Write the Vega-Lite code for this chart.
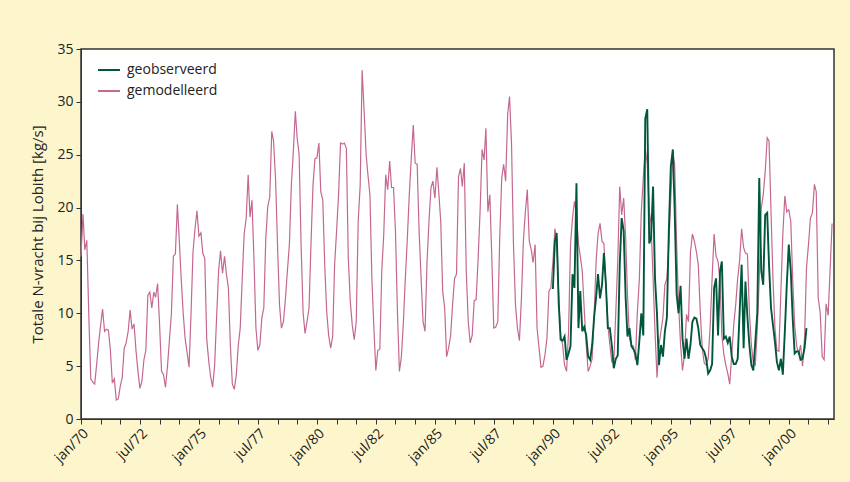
{
"$schema":"https://vega.github.io/schema/vega-lite/v6.json",
"width":753,"height":370,
"autosize":{"type":"none"},
"padding":{"left":81,"top":49,"right":16,"bottom":63},
"background":"#fdf6cc",
"config":{"font":"Open Sans","view":{"fill":"white","stroke":"#333333","strokeWidth":1.5}},
"data":{"values":[
{"t":"1970-01-01","gemodelleerd":15.4},{"t":"1970-02-01","gemodelleerd":19.4},{"t":"1970-03-01","gemodelleerd":16.0},{"t":"1970-04-01","gemodelleerd":16.9},{"t":"1970-05-01","gemodelleerd":10.0},{"t":"1970-06-01","gemodelleerd":3.8},{"t":"1970-07-01","gemodelleerd":3.5},{"t":"1970-08-01","gemodelleerd":3.3},{"t":"1970-09-01","gemodelleerd":5.2},{"t":"1970-10-01","gemodelleerd":7.2},{"t":"1970-11-01","gemodelleerd":8.9},{"t":"1970-12-01","gemodelleerd":10.4},
{"t":"1971-01-01","gemodelleerd":8.3},{"t":"1971-02-01","gemodelleerd":8.5},{"t":"1971-03-01","gemodelleerd":8.4},{"t":"1971-04-01","gemodelleerd":6.5},{"t":"1971-05-01","gemodelleerd":3.4},{"t":"1971-06-01","gemodelleerd":3.8},{"t":"1971-07-01","gemodelleerd":1.8},{"t":"1971-08-01","gemodelleerd":1.9},{"t":"1971-09-01","gemodelleerd":3.1},{"t":"1971-10-01","gemodelleerd":3.9},{"t":"1971-11-01","gemodelleerd":6.7},{"t":"1971-12-01","gemodelleerd":7.2},
{"t":"1972-01-01","gemodelleerd":8.3},{"t":"1972-02-01","gemodelleerd":10.3},{"t":"1972-03-01","gemodelleerd":8.5},{"t":"1972-04-01","gemodelleerd":9.0},{"t":"1972-05-01","gemodelleerd":6.5},{"t":"1972-06-01","gemodelleerd":4.5},{"t":"1972-07-01","gemodelleerd":2.9},{"t":"1972-08-01","gemodelleerd":3.6},{"t":"1972-09-01","gemodelleerd":5.6},{"t":"1972-10-01","gemodelleerd":6.5},{"t":"1972-11-01","gemodelleerd":11.7},{"t":"1972-12-01","gemodelleerd":12.0},
{"t":"1973-01-01","gemodelleerd":10.5},{"t":"1973-02-01","gemodelleerd":12.0},{"t":"1973-03-01","gemodelleerd":11.5},{"t":"1973-04-01","gemodelleerd":12.8},{"t":"1973-05-01","gemodelleerd":9.0},{"t":"1973-06-01","gemodelleerd":4.5},{"t":"1973-07-01","gemodelleerd":4.2},{"t":"1973-08-01","gemodelleerd":3.0},{"t":"1973-09-01","gemodelleerd":5.0},{"t":"1973-10-01","gemodelleerd":7.5},{"t":"1973-11-01","gemodelleerd":10.0},{"t":"1973-12-01","gemodelleerd":15.4},
{"t":"1974-01-01","gemodelleerd":15.6},{"t":"1974-02-01","gemodelleerd":20.3},{"t":"1974-03-01","gemodelleerd":17.1},{"t":"1974-04-01","gemodelleerd":13.3},{"t":"1974-05-01","gemodelleerd":10.1},{"t":"1974-06-01","gemodelleerd":7.6},{"t":"1974-07-01","gemodelleerd":6.3},{"t":"1974-08-01","gemodelleerd":4.9},{"t":"1974-09-01","gemodelleerd":10.1},{"t":"1974-10-01","gemodelleerd":15.8},{"t":"1974-11-01","gemodelleerd":18.0},{"t":"1974-12-01","gemodelleerd":19.7},
{"t":"1975-01-01","gemodelleerd":17.3},{"t":"1975-02-01","gemodelleerd":17.6},{"t":"1975-03-01","gemodelleerd":15.7},{"t":"1975-04-01","gemodelleerd":15.2},{"t":"1975-05-01","gemodelleerd":7.6},{"t":"1975-06-01","gemodelleerd":5.5},{"t":"1975-07-01","gemodelleerd":4.0},{"t":"1975-08-01","gemodelleerd":3.0},{"t":"1975-09-01","gemodelleerd":5.1},{"t":"1975-10-01","gemodelleerd":9.6},{"t":"1975-11-01","gemodelleerd":14.0},{"t":"1975-12-01","gemodelleerd":15.9},
{"t":"1976-01-01","gemodelleerd":13.8},{"t":"1976-02-01","gemodelleerd":15.4},{"t":"1976-03-01","gemodelleerd":13.7},{"t":"1976-04-01","gemodelleerd":12.4},{"t":"1976-05-01","gemodelleerd":7.0},{"t":"1976-06-01","gemodelleerd":3.3},{"t":"1976-07-01","gemodelleerd":2.8},{"t":"1976-08-01","gemodelleerd":4.2},{"t":"1976-09-01","gemodelleerd":7.0},{"t":"1976-10-01","gemodelleerd":8.6},{"t":"1976-11-01","gemodelleerd":13.3},{"t":"1976-12-01","gemodelleerd":17.5},
{"t":"1977-01-01","gemodelleerd":19.0},{"t":"1977-02-01","gemodelleerd":23.1},{"t":"1977-03-01","gemodelleerd":19.1},{"t":"1977-04-01","gemodelleerd":20.7},{"t":"1977-05-01","gemodelleerd":15.2},{"t":"1977-06-01","gemodelleerd":8.6},{"t":"1977-07-01","gemodelleerd":6.5},{"t":"1977-08-01","gemodelleerd":7.0},{"t":"1977-09-01","gemodelleerd":9.6},{"t":"1977-10-01","gemodelleerd":10.5},{"t":"1977-11-01","gemodelleerd":17.1},{"t":"1977-12-01","gemodelleerd":20.1},
{"t":"1978-01-01","gemodelleerd":21.0},{"t":"1978-02-01","gemodelleerd":27.2},{"t":"1978-03-01","gemodelleerd":26.3},{"t":"1978-04-01","gemodelleerd":22.7},{"t":"1978-05-01","gemodelleerd":16.5},{"t":"1978-06-01","gemodelleerd":10.8},{"t":"1978-07-01","gemodelleerd":8.6},{"t":"1978-08-01","gemodelleerd":9.2},{"t":"1978-09-01","gemodelleerd":11.4},{"t":"1978-10-01","gemodelleerd":14.0},{"t":"1978-11-01","gemodelleerd":16.5},{"t":"1978-12-01","gemodelleerd":22.1},
{"t":"1979-01-01","gemodelleerd":25.3},{"t":"1979-02-01","gemodelleerd":29.1},{"t":"1979-03-01","gemodelleerd":26.6},{"t":"1979-04-01","gemodelleerd":25.0},{"t":"1979-05-01","gemodelleerd":16.5},{"t":"1979-06-01","gemodelleerd":10.1},{"t":"1979-07-01","gemodelleerd":8.1},{"t":"1979-08-01","gemodelleerd":9.2},{"t":"1979-09-01","gemodelleerd":10.5},{"t":"1979-10-01","gemodelleerd":16.5},{"t":"1979-11-01","gemodelleerd":22.1},{"t":"1979-12-01","gemodelleerd":24.6},
{"t":"1980-01-01","gemodelleerd":24.7},{"t":"1980-02-01","gemodelleerd":26.1},{"t":"1980-03-01","gemodelleerd":21.5},{"t":"1980-04-01","gemodelleerd":20.7},{"t":"1980-05-01","gemodelleerd":14.6},{"t":"1980-06-01","gemodelleerd":10.1},{"t":"1980-07-01","gemodelleerd":7.9},{"t":"1980-08-01","gemodelleerd":6.7},{"t":"1980-09-01","gemodelleerd":7.8},{"t":"1980-10-01","gemodelleerd":14.6},{"t":"1980-11-01","gemodelleerd":17.8},{"t":"1980-12-01","gemodelleerd":21.2},
{"t":"1981-01-01","gemodelleerd":26.1},{"t":"1981-02-01","gemodelleerd":26.0},{"t":"1981-03-01","gemodelleerd":26.1},{"t":"1981-04-01","gemodelleerd":25.6},{"t":"1981-05-01","gemodelleerd":15.2},{"t":"1981-06-01","gemodelleerd":11.1},{"t":"1981-07-01","gemodelleerd":8.9},{"t":"1981-08-01","gemodelleerd":7.5},{"t":"1981-09-01","gemodelleerd":9.2},{"t":"1981-10-01","gemodelleerd":18.7},{"t":"1981-11-01","gemodelleerd":22.1},{"t":"1981-12-01","gemodelleerd":33.0},
{"t":"1982-01-01","gemodelleerd":29.1},{"t":"1982-02-01","gemodelleerd":25.0},{"t":"1982-03-01","gemodelleerd":23.1},{"t":"1982-04-01","gemodelleerd":21.2},{"t":"1982-05-01","gemodelleerd":13.3},{"t":"1982-06-01","gemodelleerd":8.6},{"t":"1982-07-01","gemodelleerd":4.6},{"t":"1982-08-01","gemodelleerd":6.5},{"t":"1982-09-01","gemodelleerd":6.6},{"t":"1982-10-01","gemodelleerd":14.0},{"t":"1982-11-01","gemodelleerd":17.5},{"t":"1982-12-01","gemodelleerd":23.1},
{"t":"1983-01-01","gemodelleerd":21.7},{"t":"1983-02-01","gemodelleerd":24.4},{"t":"1983-03-01","gemodelleerd":21.9},{"t":"1983-04-01","gemodelleerd":21.9},{"t":"1983-05-01","gemodelleerd":17.8},{"t":"1983-06-01","gemodelleerd":10.1},{"t":"1983-07-01","gemodelleerd":4.5},{"t":"1983-08-01","gemodelleerd":5.9},{"t":"1983-09-01","gemodelleerd":9.2},{"t":"1983-10-01","gemodelleerd":13.3},{"t":"1983-11-01","gemodelleerd":17.1},{"t":"1983-12-01","gemodelleerd":21.2},
{"t":"1984-01-01","gemodelleerd":24.7},{"t":"1984-02-01","gemodelleerd":27.8},{"t":"1984-03-01","gemodelleerd":24.2},{"t":"1984-04-01","gemodelleerd":24.1},{"t":"1984-05-01","gemodelleerd":17.8},{"t":"1984-06-01","gemodelleerd":13.3},{"t":"1984-07-01","gemodelleerd":9.2},{"t":"1984-08-01","gemodelleerd":8.3},{"t":"1984-09-01","gemodelleerd":14.9},{"t":"1984-10-01","gemodelleerd":18.7},{"t":"1984-11-01","gemodelleerd":21.9},{"t":"1984-12-01","gemodelleerd":22.5},
{"t":"1985-01-01","gemodelleerd":20.9},{"t":"1985-02-01","gemodelleerd":23.8},{"t":"1985-03-01","gemodelleerd":21.5},{"t":"1985-04-01","gemodelleerd":18.7},{"t":"1985-05-01","gemodelleerd":12.1},{"t":"1985-06-01","gemodelleerd":10.5},{"t":"1985-07-01","gemodelleerd":5.9},{"t":"1985-08-01","gemodelleerd":6.7},{"t":"1985-09-01","gemodelleerd":7.9},{"t":"1985-10-01","gemodelleerd":10.8},{"t":"1985-11-01","gemodelleerd":13.3},{"t":"1985-12-01","gemodelleerd":13.7},
{"t":"1986-01-01","gemodelleerd":22.9},{"t":"1986-02-01","gemodelleerd":23.7},{"t":"1986-03-01","gemodelleerd":22.0},{"t":"1986-04-01","gemodelleerd":24.2},{"t":"1986-05-01","gemodelleerd":14.0},{"t":"1986-06-01","gemodelleerd":9.2},{"t":"1986-07-01","gemodelleerd":7.2},{"t":"1986-08-01","gemodelleerd":7.9},{"t":"1986-09-01","gemodelleerd":11.2},{"t":"1986-10-01","gemodelleerd":11.3},{"t":"1986-11-01","gemodelleerd":15.2},{"t":"1986-12-01","gemodelleerd":19.6},
{"t":"1987-01-01","gemodelleerd":25.5},{"t":"1987-02-01","gemodelleerd":24.5},{"t":"1987-03-01","gemodelleerd":27.5},{"t":"1987-04-01","gemodelleerd":19.6},{"t":"1987-05-01","gemodelleerd":21.2},{"t":"1987-06-01","gemodelleerd":15.2},{"t":"1987-07-01","gemodelleerd":8.6},{"t":"1987-08-01","gemodelleerd":8.7},{"t":"1987-09-01","gemodelleerd":9.2},{"t":"1987-10-01","gemodelleerd":17.1},{"t":"1987-11-01","gemodelleerd":22.8},{"t":"1987-12-01","gemodelleerd":24.1},
{"t":"1988-01-01","gemodelleerd":22.5},{"t":"1988-02-01","gemodelleerd":28.8},{"t":"1988-03-01","gemodelleerd":30.5},{"t":"1988-04-01","gemodelleerd":26.0},{"t":"1988-05-01","gemodelleerd":16.5},{"t":"1988-06-01","gemodelleerd":10.8},{"t":"1988-07-01","gemodelleerd":8.6},{"t":"1988-08-01","gemodelleerd":7.4},{"t":"1988-09-01","gemodelleerd":11.4},{"t":"1988-10-01","gemodelleerd":16.8},{"t":"1988-11-01","gemodelleerd":19.6},{"t":"1988-12-01","gemodelleerd":21.7},
{"t":"1989-01-01","gemodelleerd":16.8},{"t":"1989-02-01","gemodelleerd":16.0},{"t":"1989-03-01","gemodelleerd":14.8},{"t":"1989-04-01","gemodelleerd":16.5},{"t":"1989-05-01","gemodelleerd":8.6},{"t":"1989-06-01","gemodelleerd":6.7},{"t":"1989-07-01","gemodelleerd":4.9},{"t":"1989-08-01","gemodelleerd":5.0},{"t":"1989-09-01","gemodelleerd":6.1},{"t":"1989-10-01","gemodelleerd":7.6},{"t":"1989-11-01","gemodelleerd":12.1},{"t":"1989-12-01","gemodelleerd":12.4},
{"t":"1990-01-01","gemodelleerd":14.8,"geobserveerd":12.3},{"t":"1990-02-01","gemodelleerd":18.0,"geobserveerd":16.8},{"t":"1990-03-01","gemodelleerd":17.1,"geobserveerd":17.6},{"t":"1990-04-01","gemodelleerd":11.8,"geobserveerd":11.0},{"t":"1990-05-01","gemodelleerd":7.9,"geobserveerd":7.5},{"t":"1990-06-01","gemodelleerd":7.0,"geobserveerd":7.4},{"t":"1990-07-01","gemodelleerd":5.1,"geobserveerd":7.8},{"t":"1990-08-01","gemodelleerd":4.5,"geobserveerd":5.6},{"t":"1990-09-01","gemodelleerd":8.3,"geobserveerd":6.2},{"t":"1990-10-01","gemodelleerd":16.5,"geobserveerd":6.9},{"t":"1990-11-01","gemodelleerd":19.0,"geobserveerd":13.7},{"t":"1990-12-01","gemodelleerd":20.6,"geobserveerd":12.4},
{"t":"1991-01-01","gemodelleerd":19.3,"geobserveerd":22.3},{"t":"1991-02-01","gemodelleerd":16.6,"geobserveerd":8.6},{"t":"1991-03-01","gemodelleerd":15.4,"geobserveerd":12.1},{"t":"1991-04-01","gemodelleerd":14.0,"geobserveerd":8.3},{"t":"1991-05-01","gemodelleerd":10.4,"geobserveerd":8.7},{"t":"1991-06-01","gemodelleerd":7.0,"geobserveerd":7.9},{"t":"1991-07-01","gemodelleerd":4.5,"geobserveerd":5.9},{"t":"1991-08-01","gemodelleerd":5.0,"geobserveerd":5.6},{"t":"1991-09-01","gemodelleerd":5.7,"geobserveerd":7.0},{"t":"1991-10-01","gemodelleerd":9.6,"geobserveerd":9.6},{"t":"1991-11-01","gemodelleerd":14.9,"geobserveerd":11.5},{"t":"1991-12-01","gemodelleerd":17.5,"geobserveerd":13.7},
{"t":"1992-01-01","gemodelleerd":18.5,"geobserveerd":11.4},{"t":"1992-02-01","gemodelleerd":16.8,"geobserveerd":12.7},{"t":"1992-03-01","gemodelleerd":16.6,"geobserveerd":15.7},{"t":"1992-04-01","gemodelleerd":12.7,"geobserveerd":12.7},{"t":"1992-05-01","gemodelleerd":8.9,"geobserveerd":8.6},{"t":"1992-06-01","gemodelleerd":7.0,"geobserveerd":8.6},{"t":"1992-07-01","gemodelleerd":5.4,"geobserveerd":7.0},{"t":"1992-08-01","gemodelleerd":5.3,"geobserveerd":4.8},{"t":"1992-09-01","gemodelleerd":10.1,"geobserveerd":5.7},{"t":"1992-10-01","gemodelleerd":14.9,"geobserveerd":6.0},{"t":"1992-11-01","gemodelleerd":22.0,"geobserveerd":14.6},{"t":"1992-12-01","gemodelleerd":19.3,"geobserveerd":19.0},
{"t":"1993-01-01","gemodelleerd":20.9,"geobserveerd":17.8},{"t":"1993-02-01","gemodelleerd":17.1,"geobserveerd":11.4},{"t":"1993-03-01","gemodelleerd":11.8,"geobserveerd":7.8},{"t":"1993-04-01","gemodelleerd":7.6,"geobserveerd":8.6},{"t":"1993-05-01","gemodelleerd":7.0,"geobserveerd":6.9},{"t":"1993-06-01","gemodelleerd":6.9,"geobserveerd":6.6},{"t":"1993-07-01","gemodelleerd":5.6,"geobserveerd":6.2},{"t":"1993-08-01","gemodelleerd":10.1,"geobserveerd":5.1},{"t":"1993-09-01","gemodelleerd":13.3,"geobserveerd":7.4},{"t":"1993-10-01","gemodelleerd":19.6,"geobserveerd":10.0},{"t":"1993-11-01","gemodelleerd":22.8,"geobserveerd":7.9},{"t":"1993-12-01","gemodelleerd":25.6,"geobserveerd":28.4},
{"t":"1994-01-01","gemodelleerd":24.1,"geobserveerd":29.3},{"t":"1994-02-01","gemodelleerd":19.6,"geobserveerd":16.6},{"t":"1994-03-01","gemodelleerd":18.5,"geobserveerd":17.1},{"t":"1994-04-01","gemodelleerd":13.3,"geobserveerd":22.0},{"t":"1994-05-01","gemodelleerd":8.3,"geobserveerd":13.3},{"t":"1994-06-01","gemodelleerd":3.9,"geobserveerd":9.9},{"t":"1994-07-01","gemodelleerd":7.0,"geobserveerd":5.1},{"t":"1994-08-01","gemodelleerd":8.3,"geobserveerd":7.0},{"t":"1994-09-01","gemodelleerd":9.6,"geobserveerd":5.9},{"t":"1994-10-01","gemodelleerd":12.7,"geobserveerd":8.3},{"t":"1994-11-01","gemodelleerd":13.3,"geobserveerd":9.6},{"t":"1994-12-01","gemodelleerd":16.5,"geobserveerd":17.8},
{"t":"1995-01-01","gemodelleerd":20.9,"geobserveerd":23.9},{"t":"1995-02-01","gemodelleerd":25.3,"geobserveerd":25.5},{"t":"1995-03-01","gemodelleerd":24.1,"geobserveerd":19.9},{"t":"1995-04-01","gemodelleerd":16.5,"geobserveerd":11.8},{"t":"1995-05-01","gemodelleerd":10.8,"geobserveerd":10.0},{"t":"1995-06-01","gemodelleerd":7.0,"geobserveerd":12.6},{"t":"1995-07-01","gemodelleerd":4.6,"geobserveerd":7.6},{"t":"1995-08-01","gemodelleerd":6.1,"geobserveerd":5.7},{"t":"1995-09-01","gemodelleerd":9.9,"geobserveerd":7.6},{"t":"1995-10-01","gemodelleerd":9.2,"geobserveerd":5.7},{"t":"1995-11-01","gemodelleerd":15.8,"geobserveerd":7.0},{"t":"1995-12-01","gemodelleerd":17.5,"geobserveerd":9.2},
{"t":"1996-01-01","gemodelleerd":16.8,"geobserveerd":9.6},{"t":"1996-02-01","gemodelleerd":15.8,"geobserveerd":9.5},{"t":"1996-03-01","gemodelleerd":14.6,"geobserveerd":8.6},{"t":"1996-04-01","gemodelleerd":10.1,"geobserveerd":7.0},{"t":"1996-05-01","gemodelleerd":6.7,"geobserveerd":6.7},{"t":"1996-06-01","gemodelleerd":5.3,"geobserveerd":6.4},{"t":"1996-07-01","gemodelleerd":5.1,"geobserveerd":5.7},{"t":"1996-08-01","gemodelleerd":5.7,"geobserveerd":4.3},{"t":"1996-09-01","gemodelleerd":8.8,"geobserveerd":4.6},{"t":"1996-10-01","gemodelleerd":13.3,"geobserveerd":5.2},{"t":"1996-11-01","gemodelleerd":17.5,"geobserveerd":12.4},{"t":"1996-12-01","gemodelleerd":15.4,"geobserveerd":13.3},
{"t":"1997-01-01","gemodelleerd":14.9,"geobserveerd":7.9},{"t":"1997-02-01","gemodelleerd":13.0,"geobserveerd":14.0},{"t":"1997-03-01","gemodelleerd":7.9,"geobserveerd":14.9},{"t":"1997-04-01","gemodelleerd":6.1,"geobserveerd":7.6},{"t":"1997-05-01","gemodelleerd":5.1,"geobserveerd":7.8},{"t":"1997-06-01","gemodelleerd":4.3,"geobserveerd":7.2},{"t":"1997-07-01","gemodelleerd":3.3,"geobserveerd":7.8},{"t":"1997-08-01","gemodelleerd":6.1,"geobserveerd":5.9},{"t":"1997-09-01","gemodelleerd":8.9,"geobserveerd":5.2},{"t":"1997-10-01","gemodelleerd":10.8,"geobserveerd":5.2},{"t":"1997-11-01","gemodelleerd":13.3,"geobserveerd":5.7},{"t":"1997-12-01","gemodelleerd":15.0,"geobserveerd":10.1},
{"t":"1998-01-01","gemodelleerd":18.0,"geobserveerd":14.6},{"t":"1998-02-01","gemodelleerd":16.2,"geobserveerd":6.7},{"t":"1998-03-01","gemodelleerd":15.7,"geobserveerd":13.0},{"t":"1998-04-01","gemodelleerd":15.6,"geobserveerd":9.6},{"t":"1998-05-01","gemodelleerd":10.1,"geobserveerd":7.0},{"t":"1998-06-01","gemodelleerd":7.0,"geobserveerd":5.1},{"t":"1998-07-01","gemodelleerd":5.3,"geobserveerd":4.6},{"t":"1998-08-01","gemodelleerd":5.1,"geobserveerd":7.3},{"t":"1998-09-01","gemodelleerd":8.6,"geobserveerd":10.1},{"t":"1998-10-01","gemodelleerd":13.3,"geobserveerd":22.8},{"t":"1998-11-01","gemodelleerd":19.9,"geobserveerd":14.0},{"t":"1998-12-01","gemodelleerd":21.2,"geobserveerd":12.7},
{"t":"1999-01-01","gemodelleerd":23.4,"geobserveerd":19.3},{"t":"1999-02-01","gemodelleerd":26.6,"geobserveerd":19.5},{"t":"1999-03-01","gemodelleerd":26.3,"geobserveerd":14.6},{"t":"1999-04-01","gemodelleerd":19.6,"geobserveerd":10.5},{"t":"1999-05-01","gemodelleerd":13.3,"geobserveerd":8.9},{"t":"1999-06-01","gemodelleerd":8.6,"geobserveerd":7.3},{"t":"1999-07-01","gemodelleerd":6.5,"geobserveerd":5.4},{"t":"1999-08-01","gemodelleerd":6.4,"geobserveerd":4.6},{"t":"1999-09-01","gemodelleerd":12.1,"geobserveerd":5.7},{"t":"1999-10-01","gemodelleerd":17.5,"geobserveerd":4.2},{"t":"1999-11-01","gemodelleerd":21.1,"geobserveerd":8.3},{"t":"1999-12-01","gemodelleerd":19.6,"geobserveerd":12.7},
{"t":"2000-01-01","gemodelleerd":19.8,"geobserveerd":16.5},{"t":"2000-02-01","gemodelleerd":18.7,"geobserveerd":14.0},{"t":"2000-03-01","gemodelleerd":13.3,"geobserveerd":9.6},{"t":"2000-04-01","gemodelleerd":8.9,"geobserveerd":6.2},{"t":"2000-05-01","gemodelleerd":7.0,"geobserveerd":6.4},{"t":"2000-06-01","gemodelleerd":6.1,"geobserveerd":6.4},{"t":"2000-07-01","gemodelleerd":7.0,"geobserveerd":5.6},{"t":"2000-08-01","gemodelleerd":5.0,"geobserveerd":5.7},{"t":"2000-09-01","gemodelleerd":7.6,"geobserveerd":6.7},{"t":"2000-10-01","gemodelleerd":14.3,"geobserveerd":8.6},{"t":"2000-11-01","gemodelleerd":16.5},{"t":"2000-12-01","gemodelleerd":19.0},
{"t":"2001-01-01","gemodelleerd":19.5},{"t":"2001-02-01","gemodelleerd":22.2},{"t":"2001-03-01","gemodelleerd":21.5},{"t":"2001-04-01","gemodelleerd":11.4},{"t":"2001-05-01","gemodelleerd":10.1},{"t":"2001-06-01","gemodelleerd":5.9},{"t":"2001-07-01","gemodelleerd":5.6},{"t":"2001-08-01","gemodelleerd":10.9},{"t":"2001-09-01","gemodelleerd":9.8},{"t":"2001-10-01","gemodelleerd":14.0},{"t":"2001-11-01","gemodelleerd":18.5}
]},
"transform":[{"fold":["geobserveerd","gemodelleerd"],"as":["serie","v"]},{"filter":"isValid(datum.v)"}],
"encoding":{
"x":{"field":"t","type":"temporal",
"scale":{"type":"utc","nice":false,"domain":[{"year":1970,"month":1,"date":1,"utc":true},{"year":2001,"month":12,"date":1,"utc":true}]},
"axis":{"title":null,"grid":false,"tickSize":5,"labelAngle":-45,"labelFontSize":14,"labelColor":"#222222","domainColor":"#333333","tickColor":"#333333","labelPadding":2,"labelOverlap":false,"labelFlush":false,"labelBound":false,
"labelExpr":"((utcyear(datum.value)-1970)*12+utcmonth(datum.value)) % 30 == 0 ? lower(utcFormat(datum.value, '%b/%y')) : ''",
"values":[{"year":1970,"month":1,"utc":true},{"year":1970,"month":11,"utc":true},{"year":1971,"month":9,"utc":true},{"year":1972,"month":7,"utc":true},{"year":1973,"month":5,"utc":true},{"year":1974,"month":3,"utc":true},{"year":1975,"month":1,"utc":true},{"year":1975,"month":11,"utc":true},{"year":1976,"month":9,"utc":true},{"year":1977,"month":7,"utc":true},{"year":1978,"month":5,"utc":true},{"year":1979,"month":3,"utc":true},{"year":1980,"month":1,"utc":true},{"year":1980,"month":11,"utc":true},{"year":1981,"month":9,"utc":true},{"year":1982,"month":7,"utc":true},{"year":1983,"month":5,"utc":true},{"year":1984,"month":3,"utc":true},{"year":1985,"month":1,"utc":true},{"year":1985,"month":11,"utc":true},{"year":1986,"month":9,"utc":true},{"year":1987,"month":7,"utc":true},{"year":1988,"month":5,"utc":true},{"year":1989,"month":3,"utc":true},{"year":1990,"month":1,"utc":true},{"year":1990,"month":11,"utc":true},{"year":1991,"month":9,"utc":true},{"year":1992,"month":7,"utc":true},{"year":1993,"month":5,"utc":true},{"year":1994,"month":3,"utc":true},{"year":1995,"month":1,"utc":true},{"year":1995,"month":11,"utc":true},{"year":1996,"month":9,"utc":true},{"year":1997,"month":7,"utc":true},{"year":1998,"month":5,"utc":true},{"year":1999,"month":3,"utc":true},{"year":2000,"month":1,"utc":true},{"year":2000,"month":11,"utc":true},{"year":2001,"month":9,"utc":true}]}},
"y":{"field":"v","type":"quantitative","scale":{"domain":[0,35],"nice":false},
"axis":{"title":"Totale N-vracht bij Lobith [kg/s]","values":[0,5,10,15,20,25,30,35],"grid":false,"tickSize":5,"labelFontSize":14,"titleFontSize":15,"titleFontWeight":"normal","labelColor":"#222222","titleColor":"#222222","domainColor":"#333333","tickColor":"#333333","titlePadding":11,"labelPadding":3}},
"color":{"field":"serie","type":"nominal","scale":{"domain":["geobserveerd","gemodelleerd"],"range":["#00573b","#c46891"]},
"legend":{"title":null,"orient":"none","legendX":16,"legendY":9,"symbolType":"stroke","symbolSize":480,"symbolStrokeWidth":2,"labelFontSize":14,"labelColor":"#222222","rowPadding":2,"labelOffset":6}}
},
"layer":[
{"transform":[{"filter":"datum.serie == 'gemodelleerd'"}],"mark":{"type":"line","strokeWidth":1.2}},
{"transform":[{"filter":"datum.serie == 'geobserveerd'"}],"mark":{"type":"line","strokeWidth":1.9}}
]
}
